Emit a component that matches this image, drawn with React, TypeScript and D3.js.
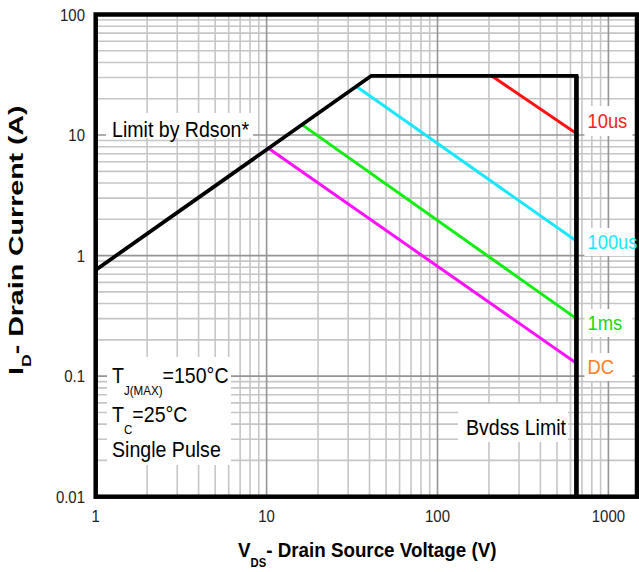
import React from 'react';
import * as d3 from 'd3';

// ---- data ----
const xTicks = [1, 10, 100, 1000];
const xTickLabels = ['1', '10', '100', '1000'];
const yTicks = [0.01, 0.1, 1, 10, 100];
const yTickLabels = ['0.01', '0.1', '1', '10', '100'];

// SOA outer boundary (Rdson limit, current limit, Bvdss limit)
const limitV = [1, 41, 650, 650];
const limitI = [0.76, 31, 31, 0.01];

const seriesNames = ['10us', '100us', '1ms', 'DC'];
const seriesColors = ['#ff1010', '#18e8ff', '#10ee10', '#ff10ff'];
const labelColors = ['#ff2020', '#18e8ff', '#10dd10', '#ff8020'];
const startV = [207, 33.4, 16.1, 10.2];
const startI = [31, 25.4, 12.2, 7.8];
const endV = [650, 650, 650, 650];
const endI = [10.3, 1.32, 0.30, 0.128];

const FONT = '"Liberation Sans", Arial, sans-serif';

const W = 639;
const H = 572;

const x = d3.scaleLog().domain([1, 1470]).range([95.7, 637]);
const y = d3.scaleLog().domain([0.01, 100]).range([496.7, 14.5]);

type TProps = {
  x: number; y: number; size: number; anchor?: string; sx?: number;
  color?: string; bold?: boolean; rotate?: number; children: React.ReactNode;
};
function T({ x: tx, y: ty, size, anchor = 'start', sx = 0.88, color = '#000', bold, rotate = 0, children }: TProps) {
  return (
    <text
      transform={`translate(${tx},${ty}) rotate(${rotate}) scale(${sx},1)`}
      fontSize={size}
      textAnchor={anchor as any}
      fill={color}
      fontWeight={bold ? 'bold' : 'normal'}
      fontFamily={FONT}
    >
      {children}
    </text>
  );
}

export default function App() {
  const [x0, x1] = x.range();
  const [yb, yt] = y.range();

  // grid values
  const gridX: { v: number; major: boolean }[] = [];
  for (let p = 0; p <= 3; p++) for (let k = 1; k <= 9; k++) {
    const v = k * Math.pow(10, p);
    if (v > 1 && v < 1470) gridX.push({ v, major: k === 1 });
  }
  const gridY: { v: number; major: boolean }[] = [];
  for (let p = -2; p <= 1; p++) for (let k = 1; k <= 9; k++) {
    const v = k * Math.pow(10, p);
    if (v > 0.01 && v < 100) gridY.push({ v, major: k === 1 });
  }

  const line = d3.line<[number, number]>().x(d => x(d[0])).y(d => y(d[1]));
  const limitPts: [number, number][] = limitV.map((v, i) => [v, limitI[i]]);

  const labelX = x(650) + 11;

  return (
    <svg width={W} height={H} style={{ position: 'absolute', left: 0, top: 0, background: '#fff' }}>
      <rect x={0} y={0} width={W} height={H} fill="#fff" />
      {/* grid */}
      <g>
        {gridX.filter(g => !g.major).map(g => (
          <line key={'gx' + g.v} x1={x(g.v)} x2={x(g.v)} y1={yt} y2={yb} stroke="#c6c6c6" strokeWidth={1.6} />
        ))}
        {gridY.filter(g => !g.major).map(g => (
          <line key={'gy' + g.v} x1={x0} x2={x1} y1={y(g.v)} y2={y(g.v)} stroke="#c6c6c6" strokeWidth={1.6} />
        ))}
        {gridX.filter(g => g.major).map(g => (
          <line key={'gX' + g.v} x1={x(g.v)} x2={x(g.v)} y1={yt} y2={yb} stroke="#959595" strokeWidth={1.6} />
        ))}
        {gridY.filter(g => g.major).map(g => (
          <line key={'gY' + g.v} x1={x0} x2={x1} y1={y(g.v)} y2={y(g.v)} stroke="#959595" strokeWidth={1.6} />
        ))}
      </g>

      {/* label backgrounds */}
      <rect x={106} y={113} width={147} height={25} fill="#fff" />
      <rect x={107} y={357} width={124} height={108} fill="#fff" />
      <rect x={458} y={404} width={110} height={38} fill="#fff" />
      <rect x={labelX - 3} y={106} width={48} height={30} fill="#fff" />
      <rect x={labelX - 3} y={228} width={56} height={28} fill="#fff" />
      <rect x={labelX - 3} y={309} width={48} height={28} fill="#fff" />
      <rect x={labelX - 3} y={353} width={48} height={28} fill="#fff" />

      {/* series */}
      {seriesNames.map((n, i) => (
        <path key={n} d={line([[startV[i], startI[i]], [endV[i], endI[i]]]) || ''} stroke={seriesColors[i]} strokeWidth={3} fill="none" />
      ))}

      {/* limit */}
      <path d={line(limitPts) || ''} stroke="#000" strokeWidth={3.8} fill="none" strokeLinejoin="miter" />
      <line x1={x(650)} x2={x(650)} y1={y(31)} y2={yb} stroke="#000" strokeWidth={4.5} />

      {/* frame */}
      <rect x={x0} y={yt} width={x1 - x0} height={yb - yt} fill="none" stroke="#000" strokeWidth={4.5} />

      {/* series labels */}
      <T x={labelX} y={128} size={20} sx={0.92} color={labelColors[0]}>{seriesNames[0]}</T>
      <T x={labelX} y={249} size={20} sx={0.92} color={labelColors[1]}>{seriesNames[1]}</T>
      <T x={labelX} y={330} size={20} sx={0.92} color={labelColors[2]}>{seriesNames[2]}</T>
      <T x={labelX} y={374} size={20} sx={0.92} color={labelColors[3]}>{seriesNames[3]}</T>

      {/* annotations */}
      <T x={112} y={137} size={22} sx={0.89}>Limit by Rdson*</T>
      <T x={112} y={383} size={22} sx={0.89}>
        <tspan>T</tspan>
        <tspan fontSize={13} dy={12}>J(MAX)</tspan>
        <tspan dy={-12}>=150°C</tspan>
      </T>
      <T x={112} y={422} size={22} sx={0.89}>
        <tspan>T</tspan>
        <tspan fontSize={13} dy={12}>C</tspan>
        <tspan dy={-12}>=25°C</tspan>
      </T>
      <T x={112} y={457} size={22} sx={0.89}>Single Pulse</T>
      <T x={466} y={435} size={22} sx={0.89}>Bvdss Limit</T>

      {/* tick labels */}
      {yTicks.map((v, i) => (
        <T key={'yt' + v} x={85} y={y(v) + 6} size={17} anchor="end" color="#222">{yTickLabels[i]}</T>
      ))}
      {xTicks.map((v, i) => (
        <T key={'xt' + v} x={x(v)} y={522} size={17} anchor="middle" color="#222">{xTickLabels[i]}</T>
      ))}

      {/* axis titles */}
      <T x={238} y={557} size={20} bold sx={0.94}>
        <tspan>V</tspan>
        <tspan fontSize={12} dy={10}>DS</tspan>
        <tspan dy={-10}>- Drain Source Voltage (V)</tspan>
      </T>
      <T x={23} y={375} size={21} bold sx={1.36} rotate={-90}>
        <tspan>I</tspan>
        <tspan fontSize={13} dy={8}>D</tspan>
        <tspan dy={-8}>- Drain Current (A)</tspan>
      </T>
    </svg>
  );
}
